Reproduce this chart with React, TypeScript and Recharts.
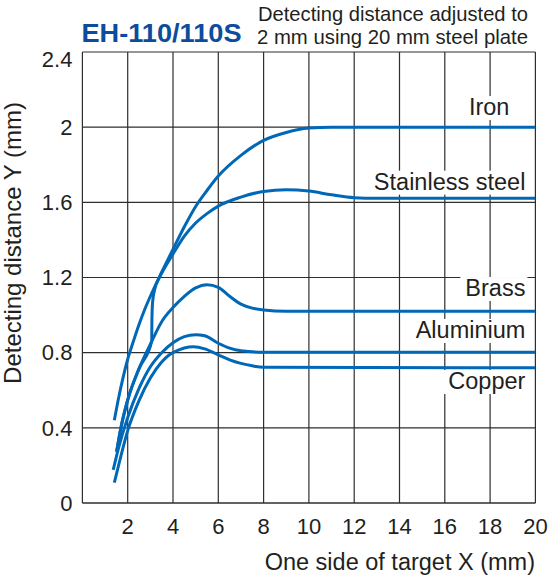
import React from "react";
import {
  LineChart,
  Line,
  XAxis,
  YAxis,
  CartesianGrid,
  ReferenceDot,
  Customized,
} from "recharts";

const xTicks = [2, 4, 6, 8, 10, 12, 14, 16, 18, 20];
const yTicks = [0, 0.4, 0.8, 1.2, 1.6, 2, 2.4];

// Iron
const ironX = [1.41, 1.6, 1.8, 2.0, 2.25, 2.5, 2.75, 3.0, 3.5, 4.0, 4.5, 5.0, 5.5, 6.0, 7.0, 8.0, 9.0, 10.0, 11.0, 20];
const ironY = [0.44, 0.56, 0.67, 0.765, 0.86, 0.95, 1.03, 1.1, 1.228, 1.35, 1.47, 1.578, 1.663, 1.74, 1.85, 1.93, 1.972, 1.995, 2.0, 2.0];

// Stainless steel (shares its lower part with brass, then kinks up)
const stainlessX = [1.51, 1.7, 2.0, 2.5, 3.06, 3.07, 3.1, 3.2, 3.4, 3.6, 4.0, 4.5, 5.0, 5.5, 6.0, 7.0, 8.0, 9.0, 10.0, 11.0, 12.0, 13.0, 20];
const stainlessY = [0.273, 0.4, 0.548, 0.715, 0.86, 0.98, 1.07, 1.14, 1.2, 1.245, 1.325, 1.42, 1.49, 1.54, 1.58, 1.628, 1.658, 1.667, 1.66, 1.64, 1.625, 1.622, 1.622];

// Brass
const brassX = [1.51, 1.7, 2.0, 2.5, 3.06, 3.5, 4.0, 4.5, 5.0, 5.5, 6.0, 6.5, 7.0, 7.5, 8.0, 9.0, 20];
const brassY = [0.273, 0.4, 0.548, 0.715, 0.86, 0.965, 1.04, 1.1, 1.145, 1.162, 1.148, 1.1, 1.058, 1.037, 1.027, 1.02, 1.02];

// Aluminium
const aluX = [1.36, 1.6, 2.0, 2.5, 3.0, 3.5, 4.0, 4.5, 5.0, 5.4, 6.0, 6.5, 7.0, 8.0, 20];
const aluY = [0.176, 0.295, 0.455, 0.61, 0.725, 0.8, 0.853, 0.885, 0.896, 0.89, 0.85, 0.824, 0.81, 0.802, 0.802];

// Copper
const copperX = [1.41, 1.7, 2.0, 2.5, 3.0, 3.5, 3.8, 4.0, 4.5, 4.9, 5.4, 6.0, 6.5, 7.0, 7.5, 8.0, 20];
const copperY = [0.108, 0.25, 0.385, 0.545, 0.665, 0.75, 0.785, 0.8, 0.825, 0.831, 0.82, 0.788, 0.762, 0.743, 0.73, 0.722, 0.72];

const labelNames = ["Iron", "Stainless steel", "Brass", "Aluminium", "Copper"];
const labelValues = [2.107, 1.71, 1.144, 0.921, 0.649];

const zip = (xs: number[], ys: number[]) => xs.map((x, i) => ({ x, y: ys[i] }));

const series = [
  { name: "Iron", points: zip(ironX, ironY) },
  { name: "Stainless steel", points: zip(stainlessX, stainlessY) },
  { name: "Brass", points: zip(brassX, brassY) },
  { name: "Aluminium", points: zip(aluX, aluY) },
  { name: "Copper", points: zip(copperX, copperY) },
];

const INK = "#231f20";
const BLUE = "#0068b7";
const GRID = "#2e2e2e";
const FONT = '"Liberation Sans", Arial, sans-serif';
const LABEL_SIZE = 23.5;

let ctx: CanvasRenderingContext2D | null = null;
const measure = (text: string, font: string) => {
  if (!ctx) ctx = document.createElement("canvas").getContext("2d");
  if (!ctx) return text.length * 11;
  ctx.font = font;
  return ctx.measureText(text).width;
};

const MaterialLabel = (props: any) => {
  const { cx, cy, name } = props;
  if (cx === undefined || cy === undefined) return null;
  const inset = name === "Iron" ? 26 : 10;
  const right = cx - inset;
  const w = measure(name, `${LABEL_SIZE}px "Liberation Sans"`);
  return (
    <g>
      <rect x={right - w - 5} y={cy - 11} width={w + 7} height={24} fill="#fff" />
      <text
        x={right}
        y={cy}
        dy="0.35em"
        textAnchor="end"
        fontSize={LABEL_SIZE}
        fontFamily={FONT}
        fill={INK}>
        {name}
      </text>
    </g>
  );
};

const YTick = (props: any) => {
  const { x, y, payload } = props;
  return (
    <text
      x={x}
      y={y + (payload.value === 2.4 ? 7 : 0)}
      dy="0.35em"
      textAnchor="end"
      fontSize={22}
      fontFamily={FONT}
      fill={INK}>
      {payload.value}
    </text>
  );
};

const XTick = (props: any) => {
  const { x, y, payload } = props;
  return (
    <text x={x} y={y} textAnchor="middle" fontSize={22} fontFamily={FONT} fill={INK}>
      {payload.value}
    </text>
  );
};

const Titles = () => (
  <g fontFamily={FONT}>
    <text
      x={81.5}
      y={41.5}
      fontSize={26}
      fontWeight="bold"
      fill="#0b4c9c"
      textLength={160}
      lengthAdjust="spacingAndGlyphs">
      EH-110/110S
    </text>
    <text x={258} y={21} fontSize={21} fill={INK} textLength={270} lengthAdjust="spacingAndGlyphs">
      Detecting distance adjusted to
    </text>
    <text x={257} y={44} fontSize={21} fill={INK} textLength={271} lengthAdjust="spacingAndGlyphs">
      2 mm using 20 mm steel plate
    </text>
    <text x={535} y={570} textAnchor="end" fontSize={23.5} fill={INK}>
      One side of target X (mm)
    </text>
    <text
      x={21}
      y={243}
      transform="rotate(-90 21 243)"
      textAnchor="middle"
      fontSize={24}
      fill={INK}>
      Detecting distance Y (mm)
    </text>
  </g>
);

export default function App() {
  return (
    <div style={{ position: "absolute", left: 0, top: 0, background: "#fff" }}>
      <LineChart
        width={549}
        height={576}
        margin={{ top: 52, right: 13.6, bottom: 0, left: 0 }}>
        <CartesianGrid
          stroke={GRID}
          strokeWidth={1.2}
          horizontalValues={yTicks}
          verticalValues={xTicks}
        />
        <XAxis
          type="number"
          dataKey="x"
          domain={[0, 20]}
          ticks={xTicks}
          allowDataOverflow
          height={73}
          tickLine={false}
          tickSize={31}
          tickMargin={0}
          axisLine={{ stroke: GRID, strokeWidth: 1.2 }}
          tick={<XTick />}
        />
        <YAxis
          type="number"
          domain={[0, 2.4]}
          ticks={yTicks}
          allowDataOverflow
          width={82.4}
          tickLine={false}
          tickSize={10}
          tickMargin={0}
          axisLine={{ stroke: GRID, strokeWidth: 1.2 }}
          tick={<YTick />}
        />
        {labelNames.map((name, i) => (
          <ReferenceDot
            key={name}
            x={20}
            y={labelValues[i]}
            r={1}
            ifOverflow="visible"
            shape={(p: any) => <MaterialLabel cx={p.cx} cy={p.cy} name={name} />}
          />
        ))}
        {series.map((s) => (
          <Line
            key={s.name}
            data={s.points}
            dataKey="y"
            type="monotone"
            stroke={BLUE}
            strokeWidth={3}
            dot={false}
            activeDot={false}
            isAnimationActive={false}
          />
        ))}
        <Customized component={Titles} />
      </LineChart>
    </div>
  );
}
